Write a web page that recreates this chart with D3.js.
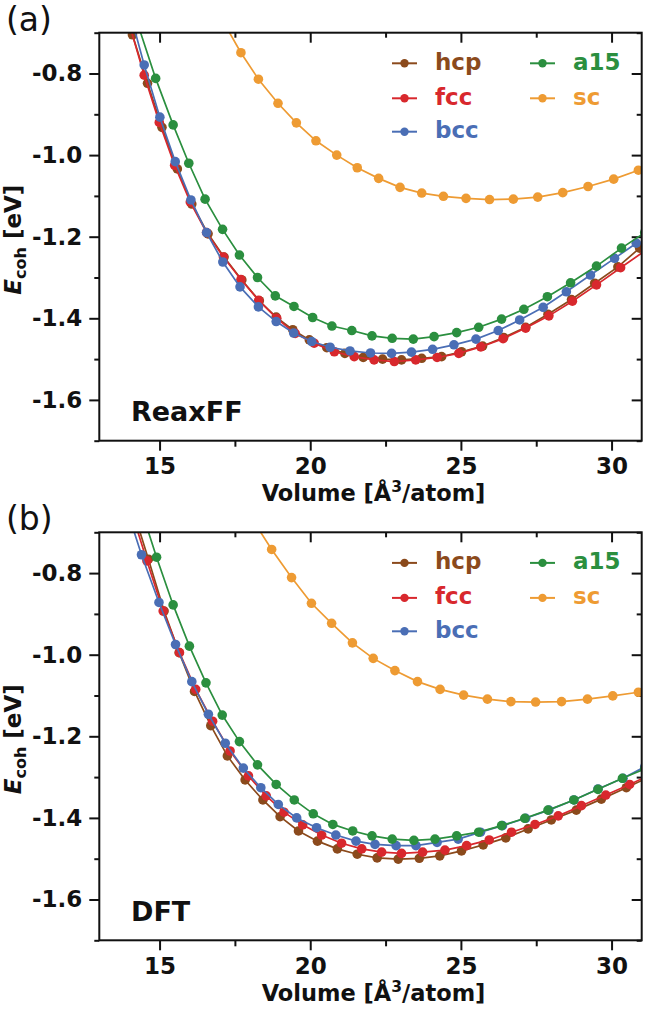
<!DOCTYPE html>
<html>
<head>
<meta charset="utf-8">
<script src="https://cdn.jsdelivr.net/npm/d3@7"></script>
<style>
  body { margin: 0; background: #fff; }
  svg { display: block; font-family: "DejaVu Sans", sans-serif; }
</style>
</head>
<body>
<svg id="chart" width="645" height="1014"></svg>
<script>
// cohesive energy vs volume, one [volume, energy] list per phase and method
var phases = ["hcp", "fcc", "bcc", "a15", "sc"];
var phaseColors = ["#8b4a1c", "#d8282d", "#4a6eb5", "#2b8f3f", "#ee9b33"];
var volumeTicks = [15, 20, 25, 30];
var volumeMinor = [17.5, 22.5, 27.5];
var energyTicks = [-0.8, -1.0, -1.2, -1.4, -1.6];
var energyMinor = [-0.7, -0.9, -1.1, -1.3, -1.5, -1.7];

// (a) ReaxFF
var reaxHcp = [[14.10,-0.705],[14.60,-0.824],[15.08,-0.932],[15.59,-1.034],[16.07,-1.120],[16.61,-1.193],
  [17.14,-1.250],[17.73,-1.306],[18.31,-1.357],[18.87,-1.397],[19.42,-1.428],[19.97,-1.453],[20.55,-1.472],
  [21.15,-1.486],[21.76,-1.496],[22.40,-1.500],[23.03,-1.502],[23.70,-1.498],[24.36,-1.494],[25.02,-1.482],
  [25.72,-1.468],[26.42,-1.447],[27.15,-1.422],[27.89,-1.390],[28.67,-1.354],[29.44,-1.314],[30.21,-1.274],[30.93,-1.228]];
var reaxFcc = [[13.98,-0.675],[14.49,-0.804],[14.99,-0.920],[15.50,-1.025],[16.02,-1.115],[16.56,-1.190],
  [17.12,-1.250],[17.70,-1.305],[18.29,-1.356],[18.89,-1.400],[19.50,-1.437],[20.13,-1.461],[20.80,-1.482],
  [21.46,-1.494],[22.12,-1.502],[22.79,-1.506],[23.50,-1.502],[24.21,-1.496],[24.93,-1.486],[25.66,-1.470],
  [26.40,-1.450],[27.15,-1.424],[27.92,-1.394],[28.70,-1.358],[29.50,-1.318],[30.30,-1.276],[31.12,-1.234]];
var reaxBcc = [[13.98,-0.640],[14.49,-0.779],[15.01,-0.907],[15.52,-1.016],[16.04,-1.110],[16.56,-1.190],
  [17.10,-1.262],[17.67,-1.323],[18.28,-1.372],[18.87,-1.408],[19.45,-1.436],[20.05,-1.457],[20.66,-1.471],
  [21.32,-1.480],[22.00,-1.485],[22.70,-1.486],[23.36,-1.483],[24.06,-1.476],[24.77,-1.465],[25.50,-1.451],
  [26.24,-1.430],[26.95,-1.404],[27.73,-1.373],[28.50,-1.335],[29.30,-1.294],[30.10,-1.253],[30.82,-1.216]];
var reaxA15 = [[14.30,-0.684],[14.87,-0.812],[15.45,-0.926],[15.97,-1.020],[16.51,-1.108],[17.09,-1.182],
  [17.65,-1.245],[18.25,-1.300],[18.84,-1.345],[19.46,-1.371],[20.08,-1.398],[20.72,-1.419],[21.38,-1.430],
  [22.05,-1.443],[22.72,-1.449],[23.42,-1.451],[24.11,-1.445],[24.86,-1.435],[25.59,-1.422],[26.35,-1.402],
  [27.09,-1.378],[27.87,-1.347],[28.64,-1.313],[29.50,-1.272],[30.33,-1.228],[31.10,-1.190]];
var reaxSc = [[17.13,-0.675],[17.70,-0.749],[18.28,-0.814],[18.93,-0.873],[19.54,-0.921],[20.19,-0.965],
  [20.88,-1.000],[21.56,-1.031],[22.27,-1.057],[22.98,-1.079],[23.70,-1.093],[24.42,-1.101],[25.17,-1.106],
  [25.95,-1.109],[26.74,-1.108],[27.55,-1.103],[28.38,-1.092],[29.22,-1.077],[30.07,-1.059],[30.89,-1.037]];

// (b) DFT
var dftHcp = [[14.10,-0.640],[14.63,-0.766],[15.15,-0.893],[15.65,-0.995],[16.16,-1.090],[16.70,-1.174],
  [17.25,-1.248],[17.84,-1.307],[18.43,-1.356],[19.00,-1.397],[19.61,-1.432],[20.24,-1.457],[20.90,-1.476],
  [21.56,-1.489],[22.22,-1.498],[22.92,-1.501],[23.62,-1.499],[24.30,-1.493],[25.02,-1.481],[25.74,-1.466],
  [26.49,-1.449],[27.23,-1.427],[28.00,-1.405],[28.83,-1.381],[29.66,-1.354],[30.49,-1.326],[31.30,-1.298]];
var dftFcc = [[14.05,-0.645],[14.58,-0.770],[15.12,-0.893],[15.66,-0.995],[16.20,-1.085],[16.76,-1.163],
  [17.34,-1.236],[17.95,-1.297],[18.54,-1.346],[19.13,-1.386],[19.75,-1.417],[20.38,-1.442],[21.04,-1.462],
  [21.71,-1.476],[22.37,-1.484],[23.03,-1.487],[23.73,-1.484],[24.47,-1.479],[25.19,-1.468],[25.94,-1.454],
  [26.68,-1.435],[27.46,-1.416],[28.23,-1.395],[29.00,-1.370],[29.81,-1.344],[30.60,-1.318],[31.40,-1.290]];
var dftBcc = [[13.90,-0.640],[14.40,-0.755],[14.98,-0.872],[15.53,-0.975],[16.07,-1.066],[16.62,-1.146],
  [17.18,-1.217],[17.78,-1.278],[18.36,-1.326],[18.94,-1.367],[19.55,-1.400],[20.21,-1.424],[20.85,-1.442],
  [21.52,-1.457],[22.15,-1.465],[22.85,-1.468],[23.51,-1.468],[24.21,-1.460],[24.91,-1.452],[25.65,-1.435],
  [26.38,-1.419],[27.15,-1.401],[27.92,-1.381],[28.75,-1.356],[29.55,-1.329],[30.38,-1.303],[31.10,-1.275]];
var dftA15 = [[14.35,-0.635],[14.90,-0.761],[15.45,-0.878],[15.99,-0.979],[16.54,-1.069],[17.08,-1.148],
  [17.65,-1.213],[18.25,-1.270],[18.87,-1.318],[19.47,-1.356],[20.10,-1.390],[20.75,-1.416],[21.41,-1.432],
  [22.05,-1.444],[22.72,-1.452],[23.44,-1.455],[24.14,-1.452],[24.86,-1.444],[25.59,-1.435],[26.35,-1.419],
  [27.12,-1.401],[27.89,-1.381],[28.75,-1.356],[29.55,-1.330],[30.36,-1.303],[31.10,-1.280]];
var dftSc = [[18.07,-0.667],[18.72,-0.742],[19.38,-0.811],[20.04,-0.874],[20.71,-0.923],[21.40,-0.971],
  [22.09,-1.009],[22.81,-1.039],[23.56,-1.066],[24.31,-1.085],[25.09,-1.099],[25.88,-1.109],[26.66,-1.115],
  [27.48,-1.116],[28.34,-1.115],[29.20,-1.109],[30.04,-1.101],[30.89,-1.092]];

var svg = d3.select("#chart");
var left = 99.3, right = 641.7, panelH = 408;

var x = d3.scaleLinear().domain([13, 31]).range([left, right]);

var panels = [
  { tag: "(a)", method: "ReaxFF", top: 32.7, series: [reaxHcp, reaxFcc, reaxBcc, reaxA15, reaxSc] },
  { tag: "(b)", method: "DFT", top: 532.3, series: [dftHcp, dftFcc, dftBcc, dftA15, dftSc] }
];

panels.forEach(function(p, pi) {
  var bottom = p.top + panelH;
  var y = d3.scaleLinear().domain([-1.7, -0.7]).range([bottom, p.top]);
  var g = svg.append("g");

  g.append("clipPath").attr("id", "clip" + pi)
    .append("rect")
    .attr("x", left).attr("y", p.top)
    .attr("width", right - left).attr("height", panelH);

  // axes: major + minor, left/bottom outward, top/right inward
  var fmt = function(d) { return d.toFixed(1); };
  g.append("g").attr("transform", "translate(" + left + ",0)")
    .call(d3.axisLeft(y).tickValues(energyTicks).tickSize(10).tickPadding(7).tickFormat(fmt));
  g.append("g").attr("transform", "translate(" + left + ",0)")
    .call(d3.axisLeft(y).tickValues(energyMinor).tickSize(5).tickFormat(""));
  g.append("g").attr("transform", "translate(" + right + ",0)")
    .call(d3.axisRight(y).tickValues(energyTicks).tickSize(-10).tickFormat(""));
  g.append("g").attr("transform", "translate(" + right + ",0)")
    .call(d3.axisRight(y).tickValues(energyMinor).tickSize(-5).tickFormat(""));
  g.append("g").attr("transform", "translate(0," + bottom + ")")
    .call(d3.axisBottom(x).tickValues(volumeTicks).tickSize(10).tickPadding(7).tickFormat(d3.format("d")));
  g.append("g").attr("transform", "translate(0," + bottom + ")")
    .call(d3.axisBottom(x).tickValues(volumeMinor).tickSize(6).tickFormat(""));
  g.append("g").attr("transform", "translate(0," + p.top + ")")
    .call(d3.axisTop(x).tickValues(volumeTicks).tickSize(-10).tickFormat(""));
  g.append("g").attr("transform", "translate(0," + p.top + ")")
    .call(d3.axisTop(x).tickValues(volumeMinor).tickSize(-5).tickFormat(""));

  g.selectAll(".domain").remove();
  g.selectAll(".tick line").attr("stroke", "#111").attr("stroke-width", 2);
  g.selectAll(".tick text")
    .attr("font-family", "DejaVu Sans").attr("font-weight", "bold")
    .attr("font-size", 23).attr("fill", "#111");

  // curves
  var line = d3.line().x(d => x(d[0])).y(d => y(d[1]));
  var plot = g.append("g").attr("clip-path", "url(#clip" + pi + ")");
  p.series.forEach(function(s, i) {
    plot.append("path").datum(s)
      .attr("d", line)
      .attr("fill", "none")
      .attr("stroke", phaseColors[i])
      .attr("stroke-width", 1.7);
    plot.append("g").selectAll("circle")
      .data(s)
      .join("circle")
      .attr("cx", d => x(d[0]))
      .attr("cy", d => y(d[1]))
      .attr("r", 4.8)
      .attr("fill", phaseColors[i]);
  });

  // frame
  g.append("rect")
    .attr("x", left).attr("y", p.top)
    .attr("width", right - left).attr("height", panelH)
    .attr("fill", "none").attr("stroke", "#111").attr("stroke-width", 2);

  // legend, two columns
  var legCols = [392, 530], legRows = [p.top + 30.6, p.top + 65.6, p.top + 99];
  phases.forEach(function(name, i) {
    var cx = legCols[i < 3 ? 0 : 1], cy = legRows[i < 3 ? i : i - 3];
    var lg = g.append("g");
    lg.append("line")
      .attr("x1", cx).attr("x2", cx + 25).attr("y1", cy).attr("y2", cy)
      .attr("stroke", phaseColors[i]).attr("stroke-width", 2);
    lg.append("circle").attr("cx", cx + 12.5).attr("cy", cy).attr("r", 4.2)
      .attr("fill", phaseColors[i]);
    lg.append("text")
      .attr("x", cx + 43).attr("y", cy + 6.5)
      .attr("font-size", 23).attr("font-weight", "bold")
      .attr("fill", phaseColors[i])
      .text(name);
  });

  // method label inside the plot
  g.append("text")
    .attr("x", 131).attr("y", p.top + 388.5)
    .attr("font-size", 27).attr("font-weight", "bold").attr("fill", "#111")
    .text(p.method);

  // panel tag
  g.append("text")
    .attr("x", 6).attr("y", p.top - 2)
    .attr("font-size", 33).attr("fill", "#111")
    .text(p.tag);

  // axis labels
  var xl = g.append("text")
    .attr("x", (left + right) / 2 + 3).attr("y", bottom + 60.5)
    .attr("text-anchor", "middle")
    .attr("font-size", 22.5).attr("font-weight", "bold").attr("fill", "#111");
  xl.append("tspan").text("Volume [Å");
  xl.append("tspan").attr("font-size", 15.5).attr("dy", -9).text("3");
  xl.append("tspan").attr("dy", 9).text("/atom]");

  var yl = g.append("text")
    .attr("transform", "translate(21," + (p.top + panelH / 2 + 3) + ") rotate(-90)")
    .attr("text-anchor", "middle")
    .attr("font-size", 23).attr("font-weight", "bold").attr("fill", "#111");
  yl.append("tspan").attr("font-style", "italic").text("E");
  yl.append("tspan").attr("font-size", 16).attr("dy", 5).text("coh");
  yl.append("tspan").attr("dy", -5).text(" [eV]");
});
</script>
</body>
</html>
